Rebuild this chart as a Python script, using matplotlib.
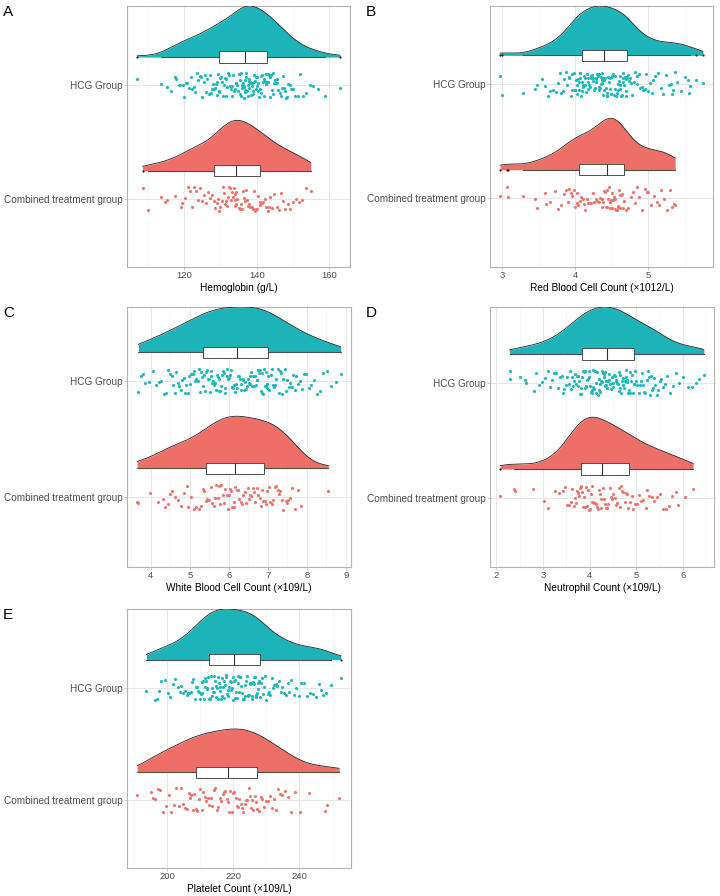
import numpy as np
import matplotlib.pyplot as plt

plt.rcParams['font.family'] = ['Liberation Sans', 'DejaVu Sans']

groups = ['Combined treatment group', 'HCG Group']
fill_colors = ['#EE6F67', '#1DB4B9']
point_colors = ['#F2736B', '#1BB9BD']

# Hemoglobin (g/L)
hb_hcg = [107.1, 113.6, 115.2, 116.5, 117.4, 117.9, 118.5, 119.0, 119.6, 120.0, 120.5, 120.9, 121.4, 121.8,
          122.2, 122.7, 123.0, 123.5, 123.9, 124.3, 124.6, 125.0, 125.4, 125.7, 126.1, 126.4, 126.8, 127.1,
          127.4, 127.7, 128.0, 128.3, 128.5, 128.8, 129.0, 129.2, 129.3, 129.5,
          129.7, 129.9, 130.2, 130.5, 130.7, 130.9, 131.2, 131.5, 131.6, 131.9, 132.2, 132.4, 132.6, 132.9,
          133.1, 133.3, 133.5, 133.8, 134.0, 134.2, 134.3, 134.6, 134.8, 135.0, 135.1, 135.3, 135.5, 135.6,
          135.8, 136.0, 136.1, 136.2, 136.4, 136.5, 136.6, 136.7, 136.8,
          136.9, 137.0, 137.2, 137.3, 137.5, 137.6, 137.8, 137.9, 138.0, 138.2, 138.3, 138.5, 138.6, 138.8,
          138.9, 139.1, 139.2, 139.4, 139.5, 139.7, 139.9, 140.0, 140.2, 140.4, 140.5, 140.7, 140.9, 141.1,
          141.3, 141.5, 141.7, 141.9, 142.1, 142.3, 142.5, 142.6, 142.7,
          142.8, 143.0, 143.2, 143.4, 143.6, 143.8, 144.0, 144.2, 144.4, 144.6, 144.8, 145.0, 145.3, 145.5,
          145.7, 146.0, 146.3, 146.6, 146.9, 147.2, 147.5, 147.8, 148.1, 148.4, 148.7, 149.1, 149.5, 149.9,
          150.5, 151.3, 152.0, 152.8, 153.7, 154.6, 155.5, 156.9, 158.9, 162.9]
hb_comb = [108.6, 110.2, 113.6, 114.9, 115.4, 117.5, 119.1, 119.5, 120.3, 121.0, 121.7, 122.3, 122.8,
           123.3, 123.8, 124.4, 124.9, 125.5, 126.0, 126.6, 127.1, 127.7, 128.2,
           128.6, 129.0, 129.3, 129.7, 130.0, 130.4, 130.7, 131.0, 131.3, 131.6, 131.9, 132.2, 132.4,
           132.7, 133.0, 133.2, 133.5, 133.7, 133.9, 134.0, 134.1, 134.2,
           134.4, 134.7, 135.0, 135.3, 135.6, 135.9, 136.2, 136.5, 136.8, 137.1, 137.4, 137.7, 138.0,
           138.3, 138.6, 138.9, 139.2, 139.5, 139.8, 140.1, 140.4, 140.8,
           141.0, 141.4, 141.8, 142.2, 142.6, 143.0, 143.4, 143.8, 144.3, 144.9, 145.5, 146.1, 146.7,
           147.3, 147.9, 148.6, 149.3, 150.0, 150.8, 151.6, 152.5, 153.6, 154.9]

# Red blood cells (x10^12/L)
rbc_hcg = [2.97, 3.00, 3.28, 3.45, 3.48, 3.55, 3.58, 3.62, 3.66, 3.70, 3.73, 3.76, 3.79, 3.81, 3.83,
           3.85, 3.87, 3.89, 3.91, 3.92, 3.94, 3.95, 3.96, 3.98, 3.99, 4.00, 4.01, 4.02, 4.03, 4.04,
           4.05, 4.05, 4.06, 4.07, 4.07, 4.08, 4.09, 4.09,
           4.10, 4.11, 4.12, 4.13, 4.14, 4.15, 4.16, 4.17, 4.17, 4.18, 4.19, 4.20, 4.21, 4.22, 4.23,
           4.24, 4.25, 4.26, 4.27, 4.28, 4.28, 4.29, 4.30, 4.31, 4.32, 4.33, 4.33, 4.34, 4.35, 4.35,
           4.36, 4.36, 4.37, 4.37, 4.38, 4.38, 4.39,
           4.40, 4.41, 4.42, 4.43, 4.43, 4.44, 4.45, 4.46, 4.47, 4.48, 4.49, 4.50, 4.51, 4.52, 4.53,
           4.54, 4.55, 4.56, 4.57, 4.58, 4.59, 4.60, 4.61, 4.62, 4.62, 4.63, 4.64, 4.65, 4.66, 4.66,
           4.67, 4.68, 4.68, 4.69, 4.69, 4.70, 4.70,
           4.71, 4.72, 4.74, 4.75, 4.77, 4.78, 4.80, 4.82, 4.84, 4.85, 4.87, 4.89, 4.91, 4.93, 4.95,
           4.97, 5.00, 5.02, 5.05, 5.07, 5.10, 5.13, 5.17, 5.21, 5.24, 5.28, 5.31, 5.33, 5.34, 5.37,
           5.40, 5.45, 5.50, 5.54, 5.56, 5.58, 5.65, 5.75]
rbc_comb = [2.97, 3.07, 3.08, 3.28, 3.45, 3.48, 3.58, 3.60, 3.65, 3.72, 3.77, 3.80, 3.84, 3.87, 3.90,
            3.92, 3.94, 3.96, 3.98, 4.00, 4.02, 4.03, 4.04,
            4.06, 4.08, 4.10, 4.12, 4.14, 4.16, 4.18, 4.20, 4.22, 4.24, 4.26, 4.28, 4.30, 4.32, 4.34,
            4.36, 4.37, 4.38, 4.40, 4.41, 4.42, 4.43,
            4.44, 4.45, 4.46, 4.47, 4.48, 4.49, 4.50, 4.51, 4.52, 4.53, 4.54, 4.55, 4.56, 4.57, 4.58,
            4.59, 4.60, 4.61, 4.62, 4.63, 4.64, 4.65,
            4.67, 4.70, 4.73, 4.76, 4.79, 4.82, 4.85, 4.88, 4.92, 4.95, 4.98, 5.00, 5.04, 5.08, 5.12,
            5.15, 5.18, 5.22, 5.26, 5.30, 5.32, 5.35, 5.37]

# White blood cells (x10^9/L)
wbc_hcg = [3.68, 3.75, 3.80, 3.84, 3.95, 4.05, 4.12, 4.20, 4.27, 4.33, 4.38, 4.43, 4.48, 4.53, 4.57,
           4.61, 4.65, 4.69, 4.73, 4.77, 4.81, 4.84, 4.88, 4.91, 4.95, 4.98, 5.01, 5.04, 5.08, 5.11,
           5.14, 5.17, 5.20, 5.23, 5.26, 5.28, 5.31, 5.33,
           5.36, 5.38, 5.41, 5.43, 5.46, 5.48, 5.51, 5.53, 5.55, 5.58, 5.60, 5.62, 5.65, 5.67, 5.69,
           5.71, 5.74, 5.76, 5.78, 5.80, 5.83, 5.85, 5.87, 5.89, 5.91, 5.94, 5.96, 5.98, 6.00, 6.02,
           6.05, 6.07, 6.09, 6.11, 6.14, 6.16, 6.19,
           6.21, 6.23, 6.25, 6.28, 6.30, 6.32, 6.35, 6.37, 6.39, 6.41, 6.44, 6.46, 6.48, 6.51, 6.53,
           6.55, 6.57, 6.60, 6.62, 6.64, 6.66, 6.69, 6.71, 6.73, 6.75, 6.78, 6.80, 6.82, 6.84, 6.86,
           6.88, 6.90, 6.92, 6.94, 6.95, 6.97, 6.98,
           7.01, 7.04, 7.07, 7.10, 7.13, 7.16, 7.19, 7.22, 7.25, 7.28, 7.31, 7.34, 7.37, 7.40, 7.43,
           7.47, 7.50, 7.54, 7.57, 7.61, 7.65, 7.69, 7.73, 7.78, 7.83, 7.88, 7.93, 7.99, 8.05, 8.11,
           8.18, 8.25, 8.33, 8.42, 8.52, 8.63, 8.75, 8.87]
wbc_comb = [3.65, 3.66, 3.97, 4.18, 4.30, 4.36, 4.45, 4.50, 4.55, 4.62, 4.70, 4.78, 4.86, 4.92, 4.95,
            5.02, 5.10, 5.17, 5.23, 5.28, 5.33, 5.37, 5.41,
            5.45, 5.49, 5.53, 5.57, 5.61, 5.64, 5.68, 5.71, 5.75, 5.78, 5.81, 5.84, 5.88, 5.91, 5.94,
            5.97, 6.00, 6.03, 6.06, 6.09, 6.12, 6.14,
            6.17, 6.20, 6.24, 6.27, 6.30, 6.34, 6.37, 6.41, 6.44, 6.48, 6.51, 6.54, 6.58, 6.61, 6.65,
            6.68, 6.72, 6.75, 6.79, 6.82, 6.85, 6.88,
            6.92, 6.96, 6.99, 7.02, 7.06, 7.10, 7.14, 7.18, 7.22, 7.26, 7.28, 7.30, 7.35, 7.40, 7.46,
            7.50, 7.52, 7.58, 7.63, 7.70, 7.77, 7.85, 8.55]

# Neutrophils (x10^9/L)
neu_hcg = [2.28, 2.30, 2.50, 2.62, 2.63, 2.80, 2.85, 2.92, 2.98, 3.05, 3.10, 3.15, 3.20, 3.24, 3.28,
           3.32, 3.36, 3.40, 3.43, 3.46, 3.49, 3.52, 3.55, 3.57, 3.60, 3.62, 3.64, 3.66, 3.68, 3.70,
           3.72, 3.74, 3.76, 3.78, 3.79, 3.81, 3.82, 3.84,
           3.86, 3.87, 3.89, 3.90, 3.92, 3.93, 3.95, 3.96, 3.98, 3.99, 4.01, 4.02, 4.04, 4.05, 4.07,
           4.08, 4.10, 4.11, 4.13, 4.14, 4.16, 4.17, 4.19, 4.20, 4.22, 4.23, 4.25, 4.26, 4.27, 4.29,
           4.30, 4.31, 4.32, 4.33, 4.34, 4.35, 4.36,
           4.38, 4.39, 4.41, 4.42, 4.44, 4.45, 4.47, 4.48, 4.50, 4.51, 4.53, 4.54, 4.56, 4.57, 4.59,
           4.60, 4.62, 4.63, 4.65, 4.66, 4.68, 4.69, 4.71, 4.72, 4.74, 4.75, 4.77, 4.78, 4.80, 4.81,
           4.83, 4.84, 4.86, 4.87, 4.89, 4.90, 4.92,
           4.95, 4.97, 5.00, 5.02, 5.05, 5.07, 5.10, 5.12, 5.15, 5.17, 5.19, 5.22, 5.24, 5.26, 5.28,
           5.30, 5.32, 5.34, 5.36, 5.38, 5.41, 5.44, 5.47, 5.50, 5.54, 5.58, 5.62, 5.67, 5.72, 5.78,
           5.85, 5.92, 6.00, 6.10, 6.20, 6.28, 6.35, 6.45]
neu_comb = [2.08, 2.38, 2.40, 2.78, 3.02, 3.10, 3.25, 3.35, 3.42, 3.48, 3.52, 3.56, 3.60, 3.63, 3.66,
            3.69, 3.71, 3.73, 3.75, 3.77, 3.79, 3.81, 3.82,
            3.84, 3.86, 3.88, 3.90, 3.92, 3.94, 3.96, 3.98, 4.00, 4.02, 4.04, 4.06, 4.08, 4.10, 4.12,
            4.14, 4.16, 4.18, 4.20, 4.22, 4.24, 4.25,
            4.28, 4.30, 4.33, 4.35, 4.38, 4.40, 4.43, 4.46, 4.48, 4.51, 4.54, 4.56, 4.59, 4.62, 4.65,
            4.67, 4.70, 4.72, 4.75, 4.77, 4.80, 4.82,
            4.86, 4.90, 4.94, 4.98, 5.02, 5.06, 5.10, 5.15, 5.20, 5.24, 5.28, 5.33, 5.38, 5.44, 5.50,
            5.57, 5.63, 5.70, 5.77, 5.85, 5.90, 6.05, 6.22]

# Platelets (x10^9/L)
plt_hcg = [193.8, 196.5, 197.0, 197.5, 198.3, 199.5, 200.3, 201.0, 201.8, 202.5, 203.2, 203.8, 204.3,
           204.9, 205.4, 205.9, 206.4, 206.8, 207.2, 207.6, 208.0, 208.4, 208.7, 209.0, 209.3, 209.6,
           209.9, 210.2, 210.5, 210.7, 211.0, 211.2, 211.4, 211.6, 211.8, 212.0, 212.2, 212.5,
           212.7, 212.9, 213.1, 213.3, 213.5, 213.7, 213.9, 214.1, 214.3, 214.5, 214.7, 214.9, 215.1,
           215.3, 215.5, 215.7, 215.9, 216.1, 216.3, 216.5, 216.7, 216.9, 217.1, 217.3, 217.5, 217.7,
           217.9, 218.1, 218.3, 218.5, 218.8, 219.0, 219.2, 219.4, 219.6, 219.8, 220.0,
           220.2, 220.4, 220.6, 220.8, 221.0, 221.3, 221.5, 221.7, 222.0, 222.2, 222.4, 222.6, 222.9,
           223.1, 223.3, 223.5, 223.7, 224.0, 224.2, 224.4, 224.6, 224.8, 225.0, 225.2, 225.4, 225.6,
           225.8, 226.0, 226.2, 226.4, 226.6, 226.8, 227.0, 227.2, 227.4, 227.6, 227.8,
           228.1, 228.4, 228.7, 229.0, 229.3, 229.7, 230.0, 230.4, 230.8, 231.2, 231.6, 232.0, 232.4,
           232.9, 233.3, 233.8, 234.3, 234.8, 235.3, 235.8, 236.4, 237.0, 237.6, 238.3, 239.0, 239.8,
           240.6, 241.5, 242.4, 243.3, 244.2, 245.0, 245.8, 246.5, 247.2, 248.0, 249.5, 252.5]
plt_comb = [191.0, 195.3, 195.8, 196.5, 197.2, 198.0, 198.8, 199.6, 200.5, 201.3, 202.0, 202.8, 203.5,
            204.2, 204.9, 205.5, 206.1, 206.6, 207.0, 207.4, 207.8, 208.3, 208.7,
            209.1, 209.6, 210.0, 210.5, 211.0, 211.4, 211.9, 212.3, 212.8, 213.3, 213.7, 214.2, 214.6,
            215.1, 215.5, 216.0, 216.4, 216.8, 217.2, 217.6, 218.0, 218.3,
            218.7, 219.1, 219.5, 219.9, 220.3, 220.7, 221.1, 221.5, 221.9, 222.3, 222.7, 223.1, 223.5,
            223.9, 224.3, 224.7, 225.1, 225.4, 225.8, 226.1, 226.5, 226.8,
            227.3, 227.8, 228.3, 228.8, 229.3, 229.8, 230.4, 231.0, 231.6, 232.2, 232.8, 233.4, 234.0,
            234.8, 235.6, 236.5, 237.5, 238.8, 240.1, 243.0, 247.8, 248.2, 252.0]

panel_letters = ['A', 'B', 'C', 'D', 'E']
x_titles = ['Hemoglobin (g/L)', 'Red Blood Cell Count (×1012/L)', 'White Blood Cell Count (×109/L)',
            'Neutrophil Count (×109/L)', 'Platelet Count (×109/L)']
x_ticks = [[120, 140, 160], [3, 4, 5], [4, 5, 6, 7, 8, 9], [2, 3, 4, 5, 6], [200, 220, 240]]
panel_data = [(hb_comb, hb_hcg), (rbc_comb, rbc_hcg), (wbc_comb, wbc_hcg),
              (neu_comb, neu_hcg), (plt_comb, plt_hcg)]

# axes boxes in pixels: left, right, top, bottom
boxes = [(127, 350, 6, 267), (490, 713, 6, 267), (127, 351, 307, 567),
         (490, 714, 307, 567), (127, 351, 609, 868)]
W, H = 720, 896


def kde(vals):
    x = np.asarray(vals, dtype=float)
    n = len(x)
    sd = x.std(ddof=1)
    q75, q25 = np.percentile(x, [75, 25])
    bw = 0.9 * min(sd, (q75 - q25) / 1.34) * n ** -0.2
    grid = np.linspace(x.min(), x.max(), 512)
    dens = np.exp(-0.5 * ((grid[:, None] - x[None, :]) / bw) ** 2).sum(axis=1)
    dens /= n * bw * np.sqrt(2 * np.pi)
    return grid, dens


fig = plt.figure(figsize=(7.2, 8.96), dpi=100)

for k in range(5):
    l, r, t, b = boxes[k]
    ax = fig.add_axes([l / W, 1 - b / H, (r - l) / W, (b - t) / H])
    data = panel_data[k]

    curves = [kde(v) for v in data]
    dmax = max(d.max() for _, d in curves)
    top = 2.6
    for g in range(2):
        pos = g + 1
        vals = np.asarray(data[g])
        gx, d = curves[g]
        h = 0.45 * d / dmax
        base = pos + 0.25
        top = max(top, base + h.max())
        ax.fill_between(gx, base, base + h, color=fill_colors[g], lw=0, zorder=2)
        ax.plot(gx, base + h, color='#222222', lw=0.6, zorder=3)

        ax.boxplot(vals, positions=[base], orientation='horizontal', widths=0.1,
                   patch_artist=True, showcaps=False, whis=1.5, zorder=4,
                   boxprops=dict(facecolor='white', edgecolor='#4D4D4D', lw=0.7),
                   medianprops=dict(color='#333333', lw=0.8),
                   whiskerprops=dict(color='#4D4D4D', lw=0.8),
                   flierprops=dict(marker='o', markersize=1.6, markerfacecolor='#222222',
                                   markeredgecolor='none'))

        # jitter (position only, deterministic)
        idx = np.arange(len(vals)) + 1
        jit = ((np.sin(idx * 12.9898 + k * 7.1 + g * 78.233) * 43758.5453) % 1 - 0.5) * 0.22
        ax.scatter(vals, pos + jit, s=5, color=point_colors[g], lw=0, zorder=5)

    lo = min(min(v) for v in data)
    hi = max(max(v) for v in data)
    pad = 0.05 * (hi - lo)

    ticks = x_ticks[k]
    step = ticks[1] - ticks[0]
    ax.set_xticks(ticks)
    ax.set_xticks(np.arange(ticks[0] - step / 2, hi + pad, step), minor=True)
    ax.set_yticks([1, 2])
    ax.set_yticklabels(groups)
    ax.set_xlim(lo - pad, hi + pad)
    ax.set_ylim(0.4, top)

    ax.grid(which='major', color='#E3E3E3', lw=0.6)
    ax.grid(which='minor', axis='x', color='#F0F0F0', lw=0.4)
    ax.set_axisbelow(True)
    ax.tick_params(which='major', length=2, width=0.5, color='#B3B3B3', labelcolor='#4D4D4D', pad=1.2)
    ax.tick_params(axis='x', labelsize=6.8)
    ax.tick_params(axis='y', labelsize=7.2)
    ax.tick_params(which='minor', length=0)
    for sp in ax.spines.values():
        sp.set_color('#B3B3B3')
        sp.set_linewidth(0.8)
    ax.set_xlabel(x_titles[k], fontsize=7.3, labelpad=2, color='black')

    lx = 3 if l < 300 else 366
    fig.text(lx / W, 1 - (t - 1) / H, panel_letters[k], fontsize=11, va='top', ha='left')

fig.savefig('out.png', dpi=100)
